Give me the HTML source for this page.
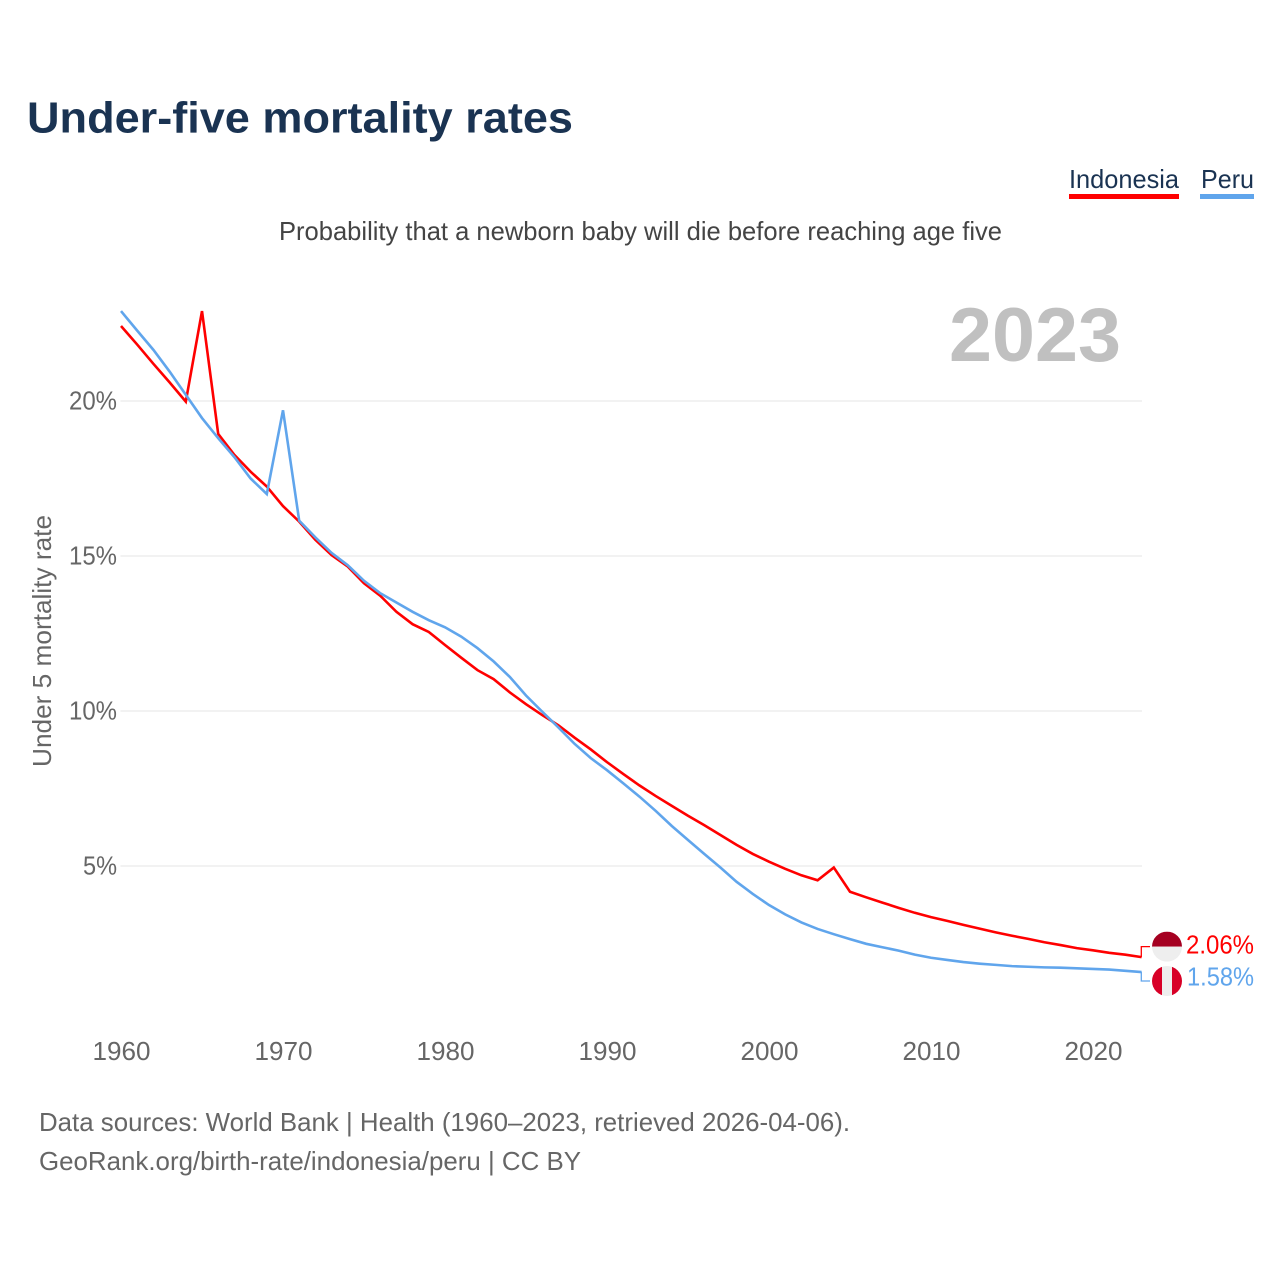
<!DOCTYPE html>
<html lang="en">
<head>
<meta charset="utf-8">
<title>Under-five mortality rates</title>
<style>
html,body{margin:0;padding:0;background:#fff;}
svg{display:block;font-family:"Liberation Sans",Arial,sans-serif;}
</style>
</head>
<body>
<svg id="chart" width="1280" height="1280" viewBox="0 0 1280 1280" xmlns="http://www.w3.org/2000/svg">
  <rect x="0" y="0" width="1280" height="1280" fill="#ffffff"/>
  <text x="27" y="132.5" font-size="44" font-weight="700" fill="#1a3352" textLength="546" lengthAdjust="spacingAndGlyphs">Under-five mortality rates</text>
  <g>
    <text x="1069" y="188" font-size="26" fill="#1a3352" textLength="110" lengthAdjust="spacingAndGlyphs">Indonesia</text>
    <rect x="1069" y="194" width="110" height="5" fill="#ff0000"/>
    <text x="1201" y="188" font-size="26" fill="#1a3352" textLength="53" lengthAdjust="spacingAndGlyphs">Peru</text>
    <rect x="1200" y="194" width="54" height="5" fill="#60a5ec"/>
  </g>
  <text x="279" y="240" font-size="26" fill="#444444" textLength="723" lengthAdjust="spacingAndGlyphs">Probability that a newborn baby will die before reaching age five</text>
  <text x="949" y="361" font-size="76" font-weight="700" fill="#c0c0c0" textLength="172" lengthAdjust="spacingAndGlyphs">2023</text>
  <g id="grid"></g>
  <g id="y-ticks"></g>
  <g id="x-ticks"></g>
  <text transform="translate(51,641) rotate(-90)" text-anchor="middle" font-size="26" fill="#666666" textLength="252" lengthAdjust="spacingAndGlyphs">Under 5 mortality rate</text>
  <g id="series"></g>
  <g id="ends"></g>
  <text x="39" y="1131" font-size="26" fill="#666666" textLength="811" lengthAdjust="spacingAndGlyphs">Data sources: World Bank | Health (1960–2023, retrieved 2026-04-06).</text>
  <text x="39" y="1170" font-size="26" fill="#666666" textLength="542" lengthAdjust="spacingAndGlyphs">GeoRank.org/birth-rate/indonesia/peru | CC BY</text>
</svg>
<script>
const years = [1960,1961,1962,1963,1964,1965,1966,1967,1968,1969,1970,1971,1972,1973,1974,1975,1976,1977,1978,1979,1980,1981,1982,1983,1984,1985,1986,1987,1988,1989,1990,1991,1992,1993,1994,1995,1996,1997,1998,1999,2000,2001,2002,2003,2004,2005,2006,2007,2008,2009,2010,2011,2012,2013,2014,2015,2016,2017,2018,2019,2020,2021,2022,2023];
const indonesia = [22.42,21.82,21.2,20.6,19.98,22.9,18.94,18.26,17.72,17.24,16.61,16.11,15.52,15.03,14.66,14.12,13.72,13.2,12.8,12.55,12.13,11.72,11.32,11.03,10.6,10.22,9.87,9.54,9.14,8.76,8.35,7.97,7.6,7.26,6.94,6.62,6.32,6.0,5.68,5.39,5.14,4.91,4.7,4.54,4.95,4.17,3.99,3.82,3.65,3.49,3.35,3.23,3.1,2.98,2.86,2.75,2.65,2.54,2.45,2.35,2.28,2.2,2.14,2.06];
const peru = [22.9,22.27,21.65,20.95,20.2,19.45,18.8,18.19,17.5,17.0,19.7,16.14,15.6,15.1,14.7,14.2,13.8,13.5,13.2,12.93,12.7,12.4,12.03,11.6,11.1,10.5,9.98,9.47,8.94,8.48,8.09,7.67,7.24,6.78,6.29,5.84,5.39,4.95,4.49,4.1,3.74,3.44,3.18,2.97,2.8,2.64,2.49,2.38,2.27,2.14,2.04,1.97,1.9,1.85,1.81,1.77,1.75,1.73,1.72,1.7,1.68,1.66,1.62,1.58];
const xTickYears = [1960,1970,1980,1990,2000,2010,2020];
const yTickValues = [5,10,15,20];
const indonesiaEndLabel = "2.06%";
const peruEndLabel = "1.58%";

const NS = "http://www.w3.org/2000/svg";
function xScale(year){ return 121 + (year - 1960) * 16.2; }
function yScale(value){ return 1021 - value * 31; }
function make(tag, attrs, parent){
  const el = document.createElementNS(NS, tag);
  for (const k in attrs) el.setAttribute(k, attrs[k]);
  parent.appendChild(el);
  return el;
}
const gridG = document.getElementById("grid");
const yTicksG = document.getElementById("y-ticks");
const xTicksG = document.getElementById("x-ticks");
const seriesG = document.getElementById("series");
const endsG = document.getElementById("ends");

yTickValues.forEach(function(v){
  const line = make("line", {x1:120.5, x2:1142, y1:yScale(v), y2:yScale(v), stroke:"#eeeeee", "stroke-width":1.6}, gridG);
  
  
  const t = make("text", {x:117, y:yScale(v)+8.5, "text-anchor":"end", "font-size":26, fill:"#666666", textLength:(v<10?34:48), lengthAdjust:"spacingAndGlyphs"}, yTicksG);
  
  
  t.textContent = v + "%";
});

xTickYears.forEach(function(yr){
  const t = make("text", {x:xScale(yr)+0.5, y:1060, "text-anchor":"middle", "font-size":26, fill:"#666666", textLength:58, lengthAdjust:"spacingAndGlyphs"}, xTicksG);
  
  
  t.textContent = yr;
});

function linePoints(values){
  return values.map(function(v,i){ return xScale(years[i]).toFixed(2) + "," + yScale(v).toFixed(2); }).join(" ");
}
const lineIndonesia = make("polyline", {points:linePoints(indonesia), fill:"none", stroke:"#ff0000", "stroke-width":2.6, "stroke-linejoin":"miter"}, seriesG);


const linePeru = make("polyline", {points:linePoints(peru), fill:"none", stroke:"#60a5ec", "stroke-width":2.6, "stroke-linejoin":"miter"}, seriesG);



const endX = xScale(years[years.length-1]) - 0.3;
const redEndY = yScale(indonesia[indonesia.length-1]);
const blueEndY = yScale(peru[peru.length-1]);
const redFlagY = redEndY - 10.5;
const blueFlagY = blueEndY + 9;

const connRed = make("polyline", {points:endX+","+redEndY+" "+endX+","+redFlagY+" 1150,"+redFlagY, fill:"none", stroke:"#ff0000", "stroke-width":1.3}, endsG);


const connBlue = make("polyline", {points:endX+","+blueEndY+" "+endX+","+blueFlagY+" 1150,"+blueFlagY, fill:"none", stroke:"#60a5ec", "stroke-width":1.3}, endsG);



const defs = make("defs", {}, endsG);
const clipA = make("clipPath", {id:"clip-id"}, defs);
make("circle", {cx:1167, cy:redFlagY, r:15}, clipA);
const clipB = make("clipPath", {id:"clip-pe"}, defs);
make("circle", {cx:1167, cy:blueFlagY, r:15}, clipB);

const flagId = make("g", {"clip-path":"url(#clip-id)"}, endsG);


make("rect", {x:1152, y:redFlagY-15, width:30, height:15, fill:"#a50021"}, flagId);
make("rect", {x:1152, y:redFlagY, width:30, height:15, fill:"#eeeeee"}, flagId);

const flagPe = make("g", {"clip-path":"url(#clip-pe)"}, endsG);


make("rect", {x:1152, y:blueFlagY-15, width:10, height:30, fill:"#d80027"}, flagPe);
make("rect", {x:1162, y:blueFlagY-15, width:10, height:30, fill:"#eeeeee"}, flagPe);
make("rect", {x:1172, y:blueFlagY-15, width:10, height:30, fill:"#d80027"}, flagPe);

const labelRed = make("text", {x:1186, y:redFlagY+7, "font-size":26, fill:"#ff0000", textLength:68, lengthAdjust:"spacingAndGlyphs"}, endsG);


labelRed.textContent = indonesiaEndLabel;
const labelBlue = make("text", {x:1187, y:blueFlagY+4.5, "font-size":26, fill:"#60a5ec", textLength:67, lengthAdjust:"spacingAndGlyphs"}, endsG);


labelBlue.textContent = peruEndLabel;
</script>
</body>
</html>
